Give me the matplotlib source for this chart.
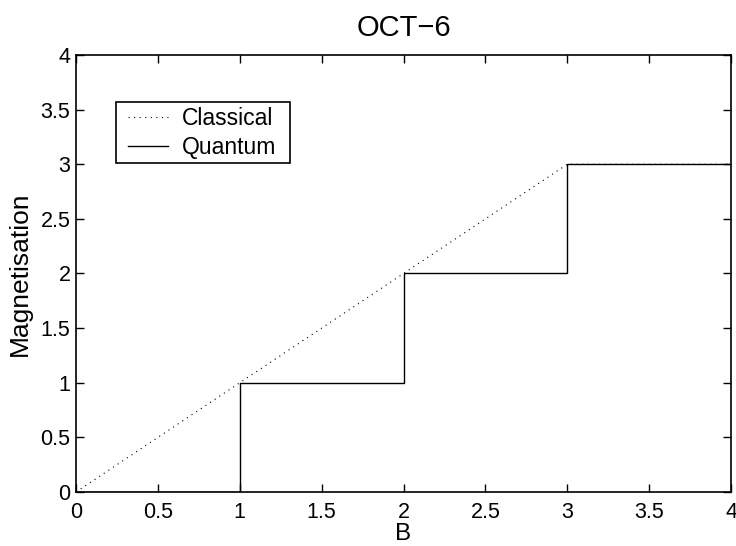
import numpy as np
import matplotlib
matplotlib.use("Agg")
import matplotlib.pyplot as plt
from matplotlib.patches import Rectangle

# classical: M = B up to saturation at 3
classical_b = [0, 3, 4]
classical_m = [0, 3, 3]

# quantum: steps at integer fields
quantum_b = [0, 1, 1, 2, 2, 3, 3, 4]
quantum_m = [0, 0, 1, 1, 2, 2, 3, 3]

ticks = [0, 0.5, 1, 1.5, 2, 2.5, 3, 3.5, 4]
tick_labels = ["0", "0.5", "1", "1.5", "2", "2.5", "3", "3.5", "4"]

plt.rcParams["font.family"] = ["Liberation Sans", "DejaVu Sans"]

fig = plt.figure(figsize=(7.36, 5.46), dpi=100)
ax = fig.add_axes([0.1033, 0.0989, 0.890, 0.8004])

ax.plot(classical_b, classical_m, color="black", linestyle=(0, (1, 4)),
        linewidth=0.8, label="Classical")
ax.plot(quantum_b, quantum_m, color="black", linestyle="-",
        linewidth=1.0, label="Quantum")

ax.set_xlim(0, 4)
ax.set_ylim(0, 4)
ax.set_xticks(ticks)
ax.set_xticklabels(tick_labels)
ax.set_yticks(ticks)
ax.set_yticklabels(tick_labels)
ax.tick_params(direction="in", top=True, right=True, length=6, width=1,
               labelsize=15.5)
ax.tick_params(axis="x", pad=7)
ax.tick_params(axis="y", pad=4)
for s in ax.spines.values():
    s.set_linewidth(1.2)

ax.set_xlabel("B", fontsize=17.5, labelpad=0)
ax.set_ylabel("Magnetisation", fontsize=19, labelpad=6)
ax.set_title("OCT\u22126", fontsize=21, pad=14)

# matlab-like legend: frameless legend plus a separate box
ax.legend(loc="upper left", bbox_to_anchor=(0.0794, 0.881),
          borderaxespad=0, borderpad=0, fontsize=16.5, frameon=False,
          handlelength=1.75, handletextpad=0.6, labelspacing=0.25)
ax.add_patch(Rectangle((0.061, 0.753), 0.266, 0.139, transform=ax.transAxes,
                       facecolor="none", edgecolor="black", linewidth=1.2,
                       zorder=5))

fig.savefig("out.png", dpi=100)
